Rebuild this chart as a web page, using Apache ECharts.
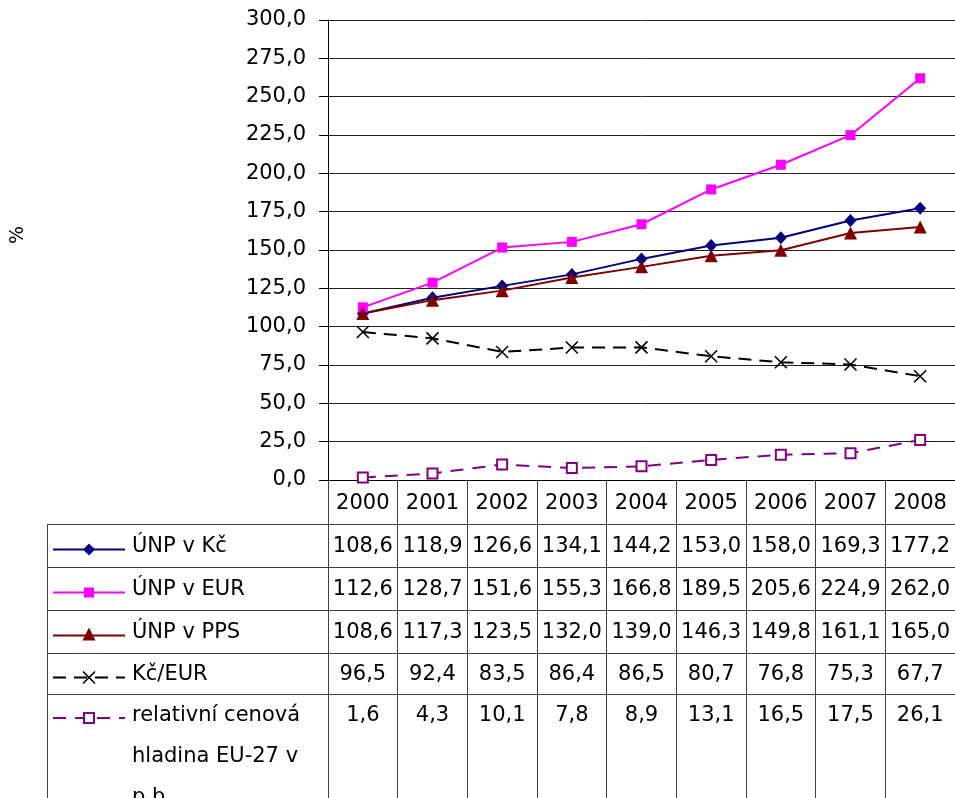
<!DOCTYPE html>
<html lang="cs">
<head>
  <meta charset="UTF-8">
  <title>ÚNP 2000-2008</title>
  <script src="https://cdn.jsdelivr.net/npm/echarts@6/dist/echarts.min.js"></script>
  <style>
    html, body { margin: 0; padding: 0; background: #fff; }
    #main { width: 955px; height: 798px; }
  </style>
</head>
<body>
<div id="main"></div>
<script>
  var years = ['2000', '2001', '2002', '2003', '2004', '2005', '2006', '2007', '2008'];
  var unpKc = [108.6, 118.9, 126.6, 134.1, 144.2, 153.0, 158.0, 169.3, 177.2];
  var unpEur = [112.6, 128.7, 151.6, 155.3, 166.8, 189.5, 205.6, 224.9, 262.0];
  var unpPps = [108.6, 117.3, 123.5, 132.0, 139.0, 146.3, 149.8, 161.1, 165.0];
  var kcEur = [96.5, 92.4, 83.5, 86.4, 86.5, 80.7, 76.8, 75.3, 67.7];
  var relHladina = [1.6, 4.3, 10.1, 7.8, 8.9, 13.1, 16.5, 17.5, 26.1];
  var names = ['ÚNP v Kč', 'ÚNP v EUR', 'ÚNP v PPS', 'Kč/EUR', 'relativní cenová\nhladina EU-27 v\np.b.'];

  var FONT = 'DejaVu Sans';
  var FS = 21;
  // table layout
  var tableLeft = 47, tableRight = 955, tableBottom = 798;
  var rowTops = [524, 567, 610, 653, 694];

  function fmt(v) {
    return v.toFixed(1).replace('.', ',');
  }

  var myChart = echarts.init(document.getElementById('main'));

  var rows = [
    {name: names[0], data: unpKc, color: '#000080', dash: null},
    {name: names[1], data: unpEur, color: '#ff00ff', dash: null},
    {name: names[2], data: unpPps, color: '#800000', dash: null},
    {name: names[3], data: kcEur, color: '#000000', dash: [13, 8]},
    {name: names[4], data: relHladina, color: '#800080', dash: [13, 9]}
  ];

  var option = {
    backgroundColor: '#fff',
    animation: false,
    grid: {left: 328, right: 0, top: 20, bottom: 318, containLabel: false},
    xAxis: {
      type: 'category',
      data: years,
      boundaryGap: true,
      axisLine: {lineStyle: {color: '#000', width: 1}},
      axisTick: {show: true, length: 318, lineStyle: {color: '#404040'}},
      axisLabel: {margin: 13, color: '#000', fontFamily: FONT, fontSize: FS},
      splitLine: {show: false}
    },
    yAxis: {
      type: 'value',
      min: 0,
      max: 300,
      interval: 25,
      axisLine: {show: true, lineStyle: {color: '#000', width: 1}},
      axisTick: {show: true, length: 9, lineStyle: {color: '#000'}},
      axisLabel: {
        margin: 22, color: '#000', fontFamily: FONT, fontSize: FS,
        formatter: function (v) { return fmt(v); }
      },
      splitLine: {show: true, lineStyle: {color: '#222', width: 1}}
    },
    series: [
      {
        name: names[0], type: 'line', data: unpKc,
        symbol: 'diamond', symbolSize: [12, 13],
        lineStyle: {color: '#000080', width: 2},
        itemStyle: {color: '#000080'}
      },
      {
        name: names[1], type: 'line', data: unpEur,
        symbol: 'rect', symbolSize: 10,
        lineStyle: {color: '#ff00ff', width: 2},
        itemStyle: {color: '#ff00ff'}
      },
      {
        name: names[2], type: 'line', data: unpPps,
        symbol: 'triangle', symbolSize: [13, 13],
        lineStyle: {color: '#800000', width: 2},
        itemStyle: {color: '#800000'}
      },
      {
        name: names[3], type: 'line', data: kcEur,
        symbol: 'path://M0,0L10,10M10,0L0,10', symbolSize: 12,
        lineStyle: {color: '#000', width: 2, type: [13, 8]},
        itemStyle: {color: 'none', borderColor: '#000', borderWidth: 1.6}
      },
      {
        name: names[4], type: 'line', data: relHladina,
        symbol: 'rect', symbolSize: 10,
        lineStyle: {color: '#800080', width: 2, type: [13, 9]},
        itemStyle: {color: '#fff', borderColor: '#800080', borderWidth: 2}
      }
    ]
  };
  myChart.setOption(option);

  // table under the plot: cell texts placed on the x axis scale
  var g = [];
  g.push({
    type: 'text', x: 18, y: 235, rotation: Math.PI / 2,
    style: {text: '%', font: '19px "' + FONT + '"', fill: '#000', align: 'center', verticalAlign: 'middle'}
  });
  rowTops.forEach(function (t) {
    g.push({type: 'line', shape: {x1: tableLeft, y1: t + 0.5, x2: tableRight, y2: t + 0.5},
      style: {stroke: '#404040', lineWidth: 1}});
  });
  g.push({type: 'line', shape: {x1: tableLeft + 0.5, y1: rowTops[0], x2: tableLeft + 0.5, y2: tableBottom},
    style: {stroke: '#404040', lineWidth: 1}});

  rows.forEach(function (r, i) {
    var last = i === rows.length - 1;
    var textY = last ? rowTops[i] + 22 : (rowTops[i] + rowTops[i + 1]) / 2 + 1.5;
    var cy = last ? rowTops[i] + 24 : textY + 2.5;
    // legend key
    g.push({type: 'line', shape: {x1: 53, y1: cy, x2: 125, y2: cy},
      style: {stroke: r.color, lineWidth: 2, lineDash: r.dash}});
    var mx = 89;
    if (i === 0) {
      g.push({type: 'polygon', shape: {points: [[mx, cy - 6], [mx + 6, cy], [mx, cy + 6], [mx - 6, cy]]}, style: {fill: r.color}});
    } else if (i === 1) {
      g.push({type: 'rect', shape: {x: mx - 5, y: cy - 5, width: 10, height: 10}, style: {fill: r.color}});
    } else if (i === 2) {
      g.push({type: 'polygon', shape: {points: [[mx, cy - 8], [mx + 6.5, cy + 5], [mx - 6.5, cy + 5]]}, style: {fill: r.color}});
    } else if (i === 3) {
      g.push({type: 'line', shape: {x1: mx - 6, y1: cy - 6, x2: mx + 6, y2: cy + 6}, style: {stroke: '#000', lineWidth: 1.6}});
      g.push({type: 'line', shape: {x1: mx + 6, y1: cy - 6, x2: mx - 6, y2: cy + 6}, style: {stroke: '#000', lineWidth: 1.6}});
    } else {
      g.push({type: 'rect', shape: {x: mx - 5, y: cy - 5, width: 10, height: 10}, style: {fill: '#fff', stroke: r.color, lineWidth: 2}});
    }
    g.push({
      type: 'text', x: 132, y: textY - 20.5,
      style: {text: r.name, font: FS + 'px "' + FONT + '"', fill: '#000', align: 'left', verticalAlign: 'top', lineHeight: 41}
    });
    r.data.forEach(function (v, j) {
      var px = myChart.convertToPixel({xAxisIndex: 0}, years[j]);
      g.push({
        type: 'text', x: px, y: textY - 20.5,
        style: {text: fmt(v), font: FS + 'px "' + FONT + '"', fill: '#000', align: 'center', verticalAlign: 'top', lineHeight: 41}
      });
    });
  });

  myChart.setOption({graphic: g});
</script>
</body>
</html>
